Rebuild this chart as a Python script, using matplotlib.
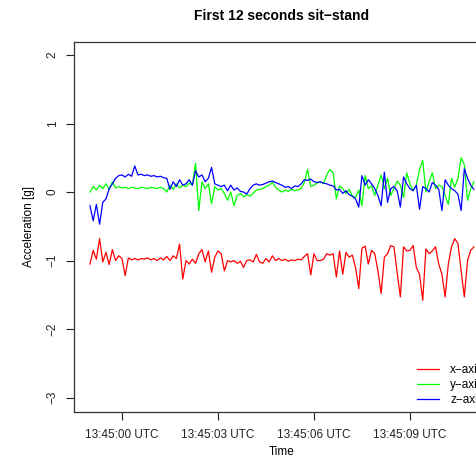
import numpy as np
import matplotlib
matplotlib.use("Agg")
import matplotlib.pyplot as plt

plt.rcParams['font.family'] = ['Liberation Sans', 'DejaVu Sans']

# seconds relative to 13:45:00, one reading every 0.1 s
acc_x = [-1.05, -0.85, -0.98, -0.68, -1.02, -0.88, -1.06, -0.84, -1.0, -0.93,
         -0.97, -1.22, -0.96, -0.99, -0.97, -0.99, -0.97, -0.98, -0.96, -0.99,
         -0.97, -1.0, -0.96, -0.99, -0.94, -1.0, -0.93, -0.97, -0.76, -1.27,
         -1.0, -1.05, -0.98, -1.04, -0.9, -0.84, -1.02, -0.86, -1.17, -0.95,
         -0.86, -0.9, -1.15, -1.0, -1.02, -1.0, -1.04, -1.01, -1.1, -1.0,
         -0.99, -1.02, -0.91, -1.02, -1.04, -0.97, -1.02, -0.93, -1.0, -0.97,
         -1.0, -0.98, -1.01, -0.99, -1.0, -0.98, -0.99, -0.94, -0.9, -1.21,
         -0.9, -1.0, -1.0, -0.98, -0.9, -0.92, -0.9, -1.24, -0.86, -1.2,
         -0.88, -0.95, -0.92, -1.1, -1.41, -0.82, -0.79, -1.05, -0.85, -0.9,
         -1.15, -1.48, -0.95, -0.9, -0.78, -0.8, -1.17, -1.53, -0.8, -0.86,
         -0.85, -0.78, -1.1, -1.2, -1.58, -0.83, -0.9, -0.86, -0.8, -1.05,
         -1.2, -1.53, -1.05, -0.8, -0.68, -0.75, -1.15, -1.53, -1.0, -0.85,
         -0.8]
acc_y = [0.0, 0.08, 0.03, 0.1, 0.05, 0.12, 0.04, 0.15, 0.06, 0.08,
         0.06, 0.07, 0.05, 0.07, 0.06, 0.05, 0.07, 0.06, 0.05, 0.07,
         0.06, 0.05, 0.07, 0.05, 0.0, 0.1, 0.04, 0.12, 0.06, 0.1,
         0.08, 0.13, 0.1, 0.42, -0.27, 0.15, 0.05, 0.12, -0.17, 0.08,
         0.03, 0.05, -0.02, -0.12, 0.0, -0.2, -0.05, -0.02, -0.07, -0.04,
         -0.06, -0.02, 0.03, 0.04, 0.05, 0.08, 0.1, 0.14, 0.07, 0.03,
         0.0, 0.03, 0.01, 0.04, 0.02, 0.03, 0.05, 0.14, 0.33, 0.08,
         0.1, 0.13, 0.15, 0.12, 0.25, 0.33, 0.28, -0.1, 0.09, 0.05,
         -0.02, 0.04, -0.06, -0.08, 0.03, -0.2, 0.24, 0.05, 0.09, -0.05,
         0.1, 0.25, 0.05, 0.2, -0.05, 0.05, 0.16, 0.1, -0.08, 0.28,
         0.12, 0.02, 0.1, 0.33, 0.46, 0.0, 0.15, 0.28, 0.05, 0.1,
         0.08, -0.05, -0.18, 0.2, 0.07, 0.2, 0.5, 0.4, -0.12, 0.05,
         0.15]
acc_z = [-0.2, -0.42, -0.18, -0.47, -0.15, -0.1, 0.05, 0.12, 0.2, 0.24,
         0.25, 0.22, 0.26, 0.23, 0.38, 0.25, 0.26, 0.24, 0.25, 0.23,
         0.24, 0.22, 0.23, 0.21, 0.2, 0.04, 0.15, 0.08, 0.18, 0.1,
         0.12, 0.18, 0.1, 0.31, 0.22, 0.25, 0.15, 0.2, 0.36, 0.12,
         0.1, 0.08, 0.1, 0.02, 0.1, 0.03, 0.06, 0.01, 0.0, -0.03,
         0.05, 0.1, 0.12, 0.1, 0.11, 0.13, 0.15, 0.16, 0.14, 0.12,
         0.1, 0.07, 0.08, 0.05, 0.09, 0.08, 0.12, 0.18, 0.17, 0.19,
         0.15, 0.14, 0.15, 0.13, 0.12, 0.1, 0.09, 0.03, 0.04, -0.02,
         0.02, -0.04, -0.06, -0.1, -0.22, 0.24, 0.1, 0.18, 0.12, 0.05,
         -0.05, -0.2, 0.29, -0.15, 0.05, 0.08, 0.02, -0.22, 0.22, 0.12,
         0.05, 0.02, 0.1, -0.25, 0.08, 0.05, 0.0, 0.14, 0.1, 0.04,
         -0.27, 0.18, 0.1, 0.05, 0.02, -0.03, -0.27, 0.34, 0.2, 0.1,
         0.04]
t = np.linspace(-1, 11, len(acc_x))

tick_pos = [0, 3, 6, 9]
tick_labels = ["13:45:00 UTC", "13:45:03 UTC", "13:45:06 UTC", "13:45:09 UTC"]
series_names = ["x\u2212axis", "y\u2212axis", "z\u2212axis"]

fig = plt.figure(figsize=(4.77, 4.69), dpi=100)
# plot region runs past the right edge of the picture, like the original crop
ax = fig.add_axes([0.1551, 0.1215, 0.872, 0.789])

ax.plot(t, acc_x, color="#FF0000", lw=0.9, label=series_names[0])
ax.plot(t, acc_y, color="#00FF00", lw=0.9, label=series_names[1])
ax.plot(t, acc_z, color="#0000FF", lw=0.9, label=series_names[2])

ax.set_xlim(-1.5, 11.5)
ax.set_ylim(-3.21, 2.19)
ax.set_xticks(tick_pos)
ax.set_xticklabels(tick_labels)
ax.set_yticks([-3, -2, -1, 0, 1, 2])
ax.set_yticklabels(["\u22123", "\u22122", "\u22121", "0", "1", "2"])
ax.tick_params(axis="both", length=6, width=0.8, labelsize=8.5, colors="#222222")
ax.tick_params(axis="x", pad=6)
ax.tick_params(axis="y", pad=5, labelrotation=90)
for lab in ax.get_yticklabels():
    lab.set_va("center")
for s in ax.spines.values():
    s.set_linewidth(0.9)
    s.set_color("#333333")

ax.set_title("First 12 seconds sit\u2212stand", fontsize=10, fontweight="bold", pad=16)
ax.set_xlabel("Time", fontsize=8.5, labelpad=4)
ax.set_ylabel("Acceleration [g]", fontsize=8.5, labelpad=8.5)

ax.legend(loc="upper left", bbox_to_anchor=(417 / 477, 1 - 364 / 469),
          bbox_transform=fig.transFigure, frameon=False, fontsize=8.5,
          borderpad=0, borderaxespad=0, handlelength=1.9, handletextpad=0.9,
          labelspacing=0.25)

fig.savefig("out.png", dpi=100)
